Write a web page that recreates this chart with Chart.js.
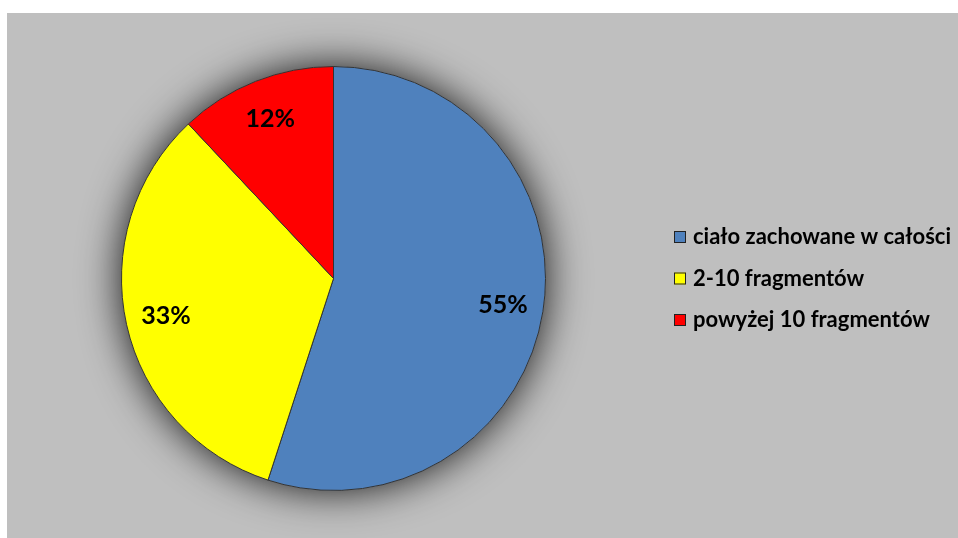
<!DOCTYPE html>
<html>
<head>
<meta charset="utf-8">
<script src="https://cdn.jsdelivr.net/npm/chart.js@4.4.0/dist/chart.umd.min.js"></script>
<style>
  html, body { margin: 0; padding: 0; background: #fff; }
  #wrap { position: absolute; left: 7px; top: 13px; width: 951px; height: 525px; background: #bfbfbf; }
</style>
</head>
<body>
<div id="wrap"><canvas id="pie" width="951" height="525"></canvas></div>
<script>
const categories = ['ciało zachowane w całości', '2-10 fragmentów', 'powyżej 10 fragmentów'];
const shares = [55, 33, 12];
const sliceColors = ['#4f81bd', '#ffff00', '#ff0000'];

// shadow behind the pie
const pieShadow = {
  id: 'pieShadow',
  beforeDatasetsDraw(chart) {
    const arc = chart.getDatasetMeta(0).data[0];
    if (!arc) return;
    const ctx = chart.ctx;
    ctx.save();
    ctx.shadowColor = 'rgba(0,0,0,0.9)';
    ctx.shadowBlur = 42;
    ctx.fillStyle = '#bfbfbf';
    ctx.beginPath();
    ctx.arc(arc.x, arc.y, arc.outerRadius, 0, Math.PI * 2);
    ctx.fill();
    ctx.restore();
  }
};

// percent labels inside the slices
const sliceLabels = {
  id: 'sliceLabels',
  afterDatasetsDraw(chart) {
    const ctx = chart.ctx;
    const meta = chart.getDatasetMeta(0);
    ctx.save();
    ctx.font = 'bold 25px Lato, "Open Sans", sans-serif';
    ctx.fillStyle = '#000';
    ctx.textAlign = 'center';
    ctx.textBaseline = 'middle';
    meta.data.forEach((arc, i) => {
      const mid = (arc.startAngle + arc.endAngle) / 2;
      const r = arc.outerRadius * 0.81;
      ctx.fillText(shares[i] + '%', arc.x + Math.cos(mid) * r, arc.y + Math.sin(mid) * r);
    });
    ctx.restore();
  }
};

// legend on the right
const sideLegend = {
  id: 'sideLegend',
  afterDraw(chart) {
    const ctx = chart.ctx;
    const x = 667, y0 = 224, step = 41.5;
    ctx.save();
    ctx.font = 'bold 22px Lato, "Open Sans", sans-serif';
    ctx.textBaseline = 'middle';
    chart.data.labels.forEach((label, i) => {
      const y = y0 + i * step;
      ctx.fillStyle = sliceColors[i];
      ctx.fillRect(x, y - 6, 12, 12);
      ctx.strokeStyle = '#222';
      ctx.lineWidth = 1;
      ctx.strokeRect(x + 0.5, y - 5.5, 11, 11);
      ctx.fillStyle = '#000';
      ctx.fillText(label, x + 19, y);
    });
    ctx.restore();
  }
};

new Chart(document.getElementById('pie'), {
  type: 'pie',
  data: {
    labels: categories,
    datasets: [{
      data: shares,
      backgroundColor: sliceColors,
      borderColor: '#333',
      borderWidth: 1
    }]
  },
  options: {
    responsive: false,
    animation: false,
    layout: { padding: { left: 114, right: 412, top: 53, bottom: 47 } },
    plugins: {
      legend: { display: false },
      tooltip: { enabled: false }
    }
  },
  plugins: [pieShadow, sliceLabels, sideLegend]
});
</script>
</body>
</html>
